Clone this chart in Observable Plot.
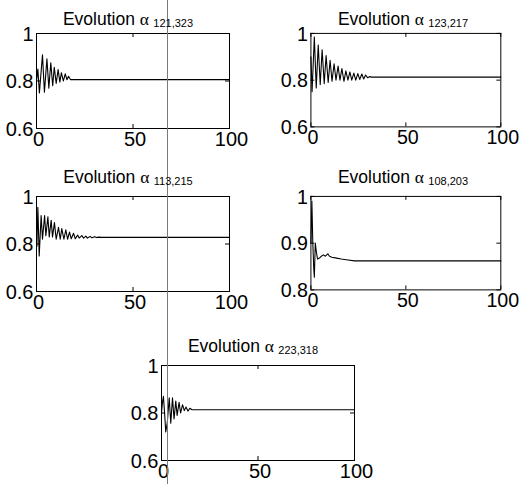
<!DOCTYPE html>
<html><head><meta charset="utf-8">
<script src="https://cdn.jsdelivr.net/npm/d3@7"></script>
<script src="https://cdn.jsdelivr.net/npm/@observablehq/plot@0.6"></script>
<style>
body{margin:0;background:#fff}
#wrap{position:relative;width:520px;height:484px;overflow:hidden;background:#fff}
#wrap .p{position:absolute}
#wrap svg{overflow:visible}
#over{position:absolute;left:0;top:0;pointer-events:none}
</style></head><body><div id="wrap"></div>
<script>
// ---- data ----
const titles = ["121,323", "123,217", "113,215", "108,203", "223,318"];
const xTicks = [0, 50, 100];
const xLabels = ["0", "50", "100"];
const yTicksA = [0.6, 0.8, 1];
const yLabelsA = ["0.6", "0.8", "1"];
const yTicksB = [0.8, 0.9, 1];
const yLabelsB = ["0.8", "0.9", "1"];

const xs1 = [0, 0.7, 1.5, 3.1, 4.1, 5.4, 6.4, 7.4, 8.4, 9.2, 10.2, 11.2, 12.1, 12.9, 13.9, 14.9, 15.8, 16.6, 17.6, 100];
const ys1 = [0.80, 0.85, 0.75, 0.91, 0.753, 0.893, 0.77, 0.877, 0.78, 0.858, 0.79, 0.848, 0.795, 0.835, 0.80, 0.83, 0.805, 0.82, 0.806, 0.806];

const xs2 = [0, 0.6, 1.8, 2.8, 3.85, 4.9, 5.9, 7.0, 8.0, 9.1, 10.1, 11.1, 12.2, 13.2, 14.3, 15.3, 16.3, 17.4, 18.4, 19.5, 20.5, 21.5, 22.6, 23.6, 24.7, 25.7, 26.8, 27.8, 28.8, 29.9, 30.9, 32, 100];
const ys2 = [0.90, 0.75, 0.985, 0.767, 0.95, 0.78, 0.93, 0.785, 0.905, 0.79, 0.885, 0.795, 0.87, 0.80, 0.86, 0.80, 0.85, 0.795, 0.84, 0.80, 0.835, 0.80, 0.83, 0.80, 0.828, 0.803, 0.826, 0.805, 0.822, 0.81, 0.815, 0.813, 0.813];

const xs3 = [0, 0.2, 0.7, 1.4, 2.4, 3.1, 4.2, 4.85, 5.9, 6.6, 7.6, 8.3, 9.3, 10.2, 11.4, 12.3, 13.1, 14.2, 15.2, 16.1, 17.1, 18, 19.2, 20.1, 21.3, 22.1, 23.5, 24.4, 25.6, 26.4, 27.8, 28.7, 30.1, 31, 32.1, 33.9, 100];
const ys3 = [0.80, 0.79, 0.955, 0.75, 0.92, 0.82, 0.92, 0.835, 0.915, 0.83, 0.90, 0.83, 0.89, 0.82, 0.87, 0.82, 0.865, 0.82, 0.86, 0.82, 0.85, 0.822, 0.845, 0.822, 0.8375, 0.825, 0.835, 0.825, 0.833, 0.825, 0.832, 0.826, 0.831, 0.827, 0.829, 0.828, 0.828];

const xs4 = [0, 0.5, 1.0, 1.5, 1.8, 2.3, 2.9, 3.5, 4.5, 5.5, 6.6, 7.6, 8.9, 9.8, 11, 13.5, 16, 19.5, 23, 26, 100];
const ys4 = [0.90, 0.99, 0.90, 0.845, 0.827, 0.90, 0.88, 0.866, 0.868, 0.872, 0.875, 0.872, 0.877, 0.872, 0.87, 0.868, 0.866, 0.864, 0.862, 0.862, 0.862];

const xs5 = [0, 0.5, 1.0, 1.6, 2.2, 3.0, 4.0, 4.8, 5.7, 6.5, 7.4, 8.1, 9.1, 9.9, 10.9, 11.8, 12.7, 13.7, 14.7, 15.8, 100];
const ys5 = [0.80, 0.845, 0.87, 0.80, 0.72, 0.76, 0.864, 0.757, 0.864, 0.775, 0.85, 0.79, 0.845, 0.80, 0.835, 0.81, 0.825, 0.808, 0.82, 0.814, 0.814];

// ---- layout ----
const frames = [
  {left: 36, top: 33, tb: 25},
  {left: 311, top: 33, tb: 25},
  {left: 36, top: 196, tb: 183},
  {left: 311, top: 196, tb: 183},
  {left: 161, top: 365, tb: 352}
];
const FW = 193, FH = 95, ML = 36, MR = 20, MT = 5, MB = 25;

const series = [
  [xs1, ys1, yTicksA, yLabelsA],
  [xs2, ys2, yTicksA, yLabelsA],
  [xs3, ys3, yTicksA, yLabelsA],
  [xs4, ys4, yTicksB, yLabelsB],
  [xs5, ys5, yTicksA, yLabelsA]
];

const font = "'Liberation Sans', Arial, Helvetica, sans-serif";

function panel(xs, ys, yTicks, yLabels) {
  const data = xs.map((x, i) => ({x, y: ys[i]}));
  const y0 = yTicks[0], y1 = yTicks[yTicks.length - 1];
  return Plot.plot({
    width: ML + FW + MR, height: MT + FH + MB,
    marginLeft: ML, marginRight: MR, marginTop: MT, marginBottom: MB,
    style: {fontFamily: font, fontSize: "20px", color: "#000", background: "transparent", overflow: "visible"},
    x: {domain: [0, 100], axis: null},
    y: {domain: [y0, y1], axis: null},
    marks: [
      Plot.line(data, {x: "x", y: "y", stroke: "#000", strokeWidth: 1.1}),
      Plot.frame({stroke: "#000"}),
      // inward tick marks (bottom / top / left / right)
      Plot.ruleX(xTicks, {x: d => d, y1: y0, y2: y0, insetTop: -4, stroke: "#000"}),
      Plot.ruleX(xTicks, {x: d => d, y1: y1, y2: y1, insetBottom: -4, stroke: "#000"}),
      Plot.ruleY(yTicks, {y: d => d, x1: 0, x2: 0, insetRight: -4, stroke: "#000"}),
      Plot.ruleY(yTicks, {y: d => d, x1: 100, x2: 100, insetLeft: -4, stroke: "#000"}),
      Plot.axisX(xTicks, {anchor: "bottom", label: null, tickSize: 0, tickPadding: 3, dx: 2, fontSize: 20,
        tickFormat: d => xLabels[xTicks.indexOf(d)]}),
      Plot.axisY(yTicks, {anchor: "left", label: null, tickSize: 0, tickPadding: 3, dy: 1, fontSize: 20,
        tickFormat: d => yLabels[yTicks.indexOf(d)]})
    ]
  });
}

const wrap = document.getElementById("wrap");
series.forEach(([xs, ys, yt, yl], i) => {
  const div = document.createElement("div");
  div.className = "p";
  div.style.left = (frames[i].left - ML) + "px";
  div.style.top = (frames[i].top - MT) + "px";
  div.appendChild(panel(xs, ys, yt, yl));
  wrap.appendChild(div);
});

// ---- titles overlay ----
const NS = "http://www.w3.org/2000/svg";
const over = document.createElementNS(NS, "svg");
over.setAttribute("id", "over");
over.setAttribute("width", 520);
over.setAttribute("height", 484);
// thin scan line crossing the figure
const ln = document.createElementNS(NS, "line");
ln.setAttribute("x1", 167.5); ln.setAttribute("x2", 167.5);
ln.setAttribute("y1", 0); ln.setAttribute("y2", 484);
ln.setAttribute("stroke", "#7a7a7a"); ln.setAttribute("stroke-width", 1);
over.appendChild(ln);
titles.forEach((sub, i) => {
  const f = frames[i];
  const t = document.createElementNS(NS, "text");
  t.setAttribute("x", f.left + FW / 2 - 4.5);
  t.setAttribute("y", f.tb);
  t.setAttribute("text-anchor", "middle");
  t.setAttribute("font-family", font);
  t.setAttribute("font-size", 17.5);
  t.setAttribute("fill", "#000");
  const a = document.createElementNS(NS, "tspan");
  a.textContent = "Evolution ";
  const b = document.createElementNS(NS, "tspan");
  b.setAttribute("font-family", "'Liberation Serif', 'Times New Roman', serif");
  b.textContent = "\u03B1 ";
  const c = document.createElementNS(NS, "tspan");
  c.setAttribute("font-size", 11);
  c.setAttribute("dy", 2);
  c.textContent = sub;
  t.appendChild(a); t.appendChild(b); t.appendChild(c);
  over.appendChild(t);
});
wrap.appendChild(over);
</script>
</body></html>
